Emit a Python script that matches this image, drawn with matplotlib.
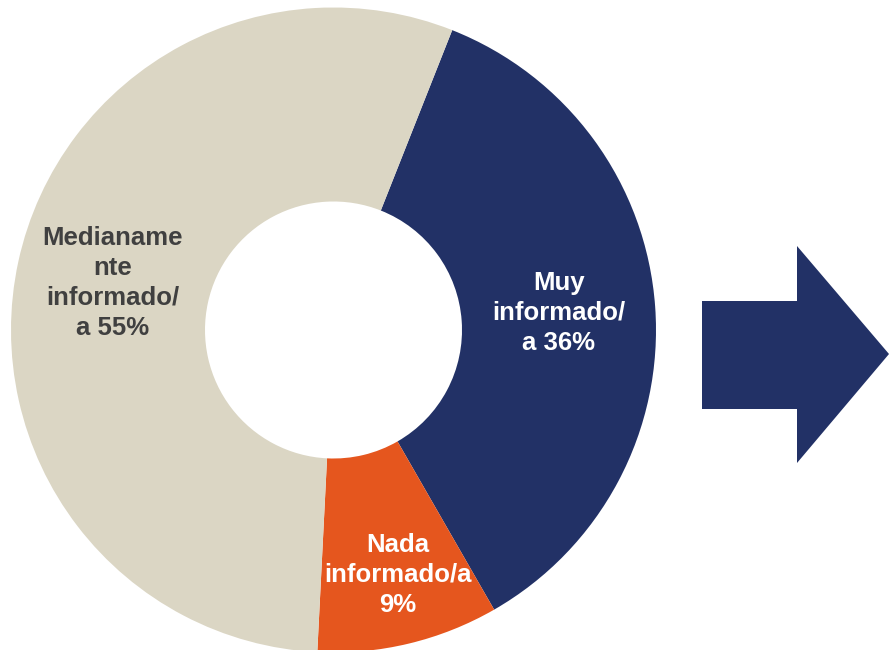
import matplotlib
matplotlib.use("Agg")
import matplotlib.pyplot as plt
from matplotlib.patches import Polygon

# Data
categories = ["Muy\ninformado/\na 36%", "Nada\ninformado/a\n9%", "Medianame\nnte\ninformado/\na 55%"]
values = [35.7, 9.1, 55.2]
colors = ["#223166", "#E5561E", "#DBD6C4"]
text_colors = ["white", "white", "#404040"]
label_pos = [(559, 313), (398, 575), (113, 283)]  # pixel positions (from top)

W, H = 889, 650
fig = plt.figure(figsize=(W / 100, H / 100), dpi=100)
ax = fig.add_axes([0, 0, 1, 1])

cx, cy = 333.5, H - 330
R_out, R_in = 322.5, 128.5
ax.pie(values, colors=colors, startangle=68.4, counterclock=False,
       center=(cx, cy), radius=R_out,
       wedgeprops=dict(width=R_out - R_in, linewidth=0))

for lab, (x, y), tc in zip(categories, label_pos, text_colors):
    ax.text(x, H - y, lab, ha="center", va="center", color=tc,
            fontsize=18.5, fontweight="bold", family="Liberation Sans",
            linespacing=1.3)

# Arrow shape
arrow = [(702, 301), (797, 301), (797, 246), (889, 354), (797, 463),
         (797, 409), (702, 409)]
ax.add_patch(Polygon([(x, H - y) for x, y in arrow], closed=True,
                     facecolor="#223166", edgecolor="none"))

ax.set_xlim(0, W)
ax.set_ylim(0, H)
ax.set_aspect("equal")
ax.axis("off")
fig.savefig("out.png", dpi=100, facecolor="white")
